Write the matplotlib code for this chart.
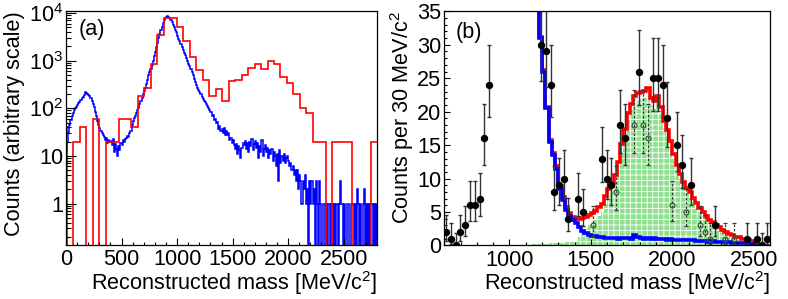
import numpy as np
import matplotlib
matplotlib.use("Agg")
import matplotlib.pyplot as plt
from matplotlib.ticker import FixedLocator, FixedFormatter, MultipleLocator, NullFormatter

plt.rcParams['font.family'] = ['Liberation Sans', 'DejaVu Sans']
plt.rcParams['mathtext.fontset'] = 'custom'
plt.rcParams['mathtext.rm'] = 'Liberation Sans'
plt.rcParams['mathtext.it'] = 'Liberation Sans:italic'
plt.rcParams['hatch.linewidth'] = 0.6

# ---------------- panel (a) ----------------
# red histogram: 58.33 MeV bins, first bin straddles 0 (edges start at -52.3)
red_width = 2800 / 48
red_start = -52.3
red_a = [40, 0, 20, 40, 0, 60, 0, 20, 20, 60, 60,
         40, 180, 260, 830, 3500, 7900, 7900, 5200, 2600, 1200,
         630, 390, 180, 250, 140, 370, 390, 510, 700, 860,
         670, 1000, 860, 450, 340, 200, 100, 78, 20, 20,
         0, 20, 20, 20, 0, 0, 0, 20]
# blue histogram: 10 MeV bins over 0-2800 MeV (one row = 200 MeV)
blue_a = [
    12, 20, 32, 45, 57, 68, 80, 90, 100, 108, 118, 128, 138, 150, 162, 175, 190, 220, 210, 200,
    190, 180, 165, 145, 120, 105, 85, 70, 55, 45, 38, 33, 30, 27, 25, 22, 24, 19, 22, 20,
    21, 17, 23, 12, 18, 14, 10, 16, 13, 19, 17, 22, 20, 23, 24, 26, 25, 30, 33, 44,
    55, 62, 70, 80, 92, 103, 120, 140, 165, 195, 225, 265, 320, 400, 490, 580, 680, 800, 1000, 1250,
    1500, 1900, 2400, 3000, 3700, 4400, 5200, 6200, 7200, 7900, 8400, 8500, 8300, 7900, 7200, 6400, 5700, 5000, 4400, 3900,
    3300, 2900, 2600, 2250, 1950, 1700, 1480, 1300, 1130, 980, 860, 760, 660, 570, 490, 420, 360, 310, 270, 240,
    215, 195, 175, 160, 145, 135, 125, 110, 100, 92, 82, 70, 74, 58, 60, 48, 52, 36, 42, 33,
    36, 30, 38, 28, 33, 27, 30, 22, 24, 19, 22, 17, 14, 18, 11, 16, 13, 9, 15, 19,
    17, 21, 14, 19, 12, 20, 16, 23, 13, 18, 21, 15, 19, 9, 16, 12, 22, 10, 14, 17,
    12, 15, 9, 13, 11, 14, 8, 12, 10, 6, 11, 3, 13, 7, 10, 8, 11, 7, 9, 10,
    8, 6, 7, 5, 6, 4, 5, 3, 5, 2, 4, 3, 1, 3, 2, 4, 1, 2, 0, 3,
    1, 3, 1, 2, 0, 3, 1, 0, 3, 1, 0, 1, 1, 0, 1, 0, 1, 1, 0, 1,
    0, 1, 0, 1, 1, 0, 1, 3, 1, 0, 1, 0, 0, 1, 1, 0, 0, 1, 1, 0,
    1, 0, 2, 1, 0, 1, 0, 1, 2, 0, 1, 0, 1, 0, 1, 1, 0, 1, 0, 1]

# ---------------- panel (b) ----------------
# histograms: 20 MeV bins from 1100 to 2540 MeV
blue_b = [70, 55, 45, 38, 31, 26, 20.5, 15.5, 13.5, 11.5,
          8.5, 6.8, 5.3, 4.4, 3.8, 3.3, 2.7, 2.2, 1.8, 1.6,
          1.45, 1.35, 1.3, 1.2, 1.15, 1.1, 1.05, 1.1, 1.0, 1.1,
          1.05, 1.1, 1.0, 1.6, 1.2, 1.1, 1.0, 1.1, 1.0, 1.05,
          1.0, 0.95, 1.0, 0.85, 0.9, 0.85, 0.85, 0.8, 0.85, 0.8,
          0.75, 0.8, 0.7, 0.6, 0.65, 0.6, 0.55, 0.6, 0.55, 0.5,
          0.5, 0.45, 0.45, 0.4, 0.35, 0.35, 0.3, 0.3, 0.25, 0.2,
          0.1, 0.05]
green_b = [0.1, 0.1, 0.15, 0.15, 0.2, 0.2, 0.25, 0.3, 0.3, 0.35,
           0.4, 0.4, 0.45, 0.5, 0.5, 0.6, 1.2, 1.9, 2.5, 3.0,
           3.4, 3.8, 4.4, 5.0, 6.2, 7.4, 8.3, 9.5, 11.5, 14.0,
           16.3, 18.7, 20.2, 20.8, 21.6, 21.9, 22.1, 22.4, 21.0, 20.6,
           21.4, 19.7, 17.6, 16.4, 14.7, 12.9, 11.2, 9.9, 8.6, 7.8,
           7.2, 6.3, 5.6, 5.0, 4.3, 3.8, 3.3, 2.9, 2.5, 2.2,
           1.8, 1.55, 1.3, 1.1, 0.95, 0.85, 0.7, 0.6, 0.5, 0.4,
           0.3, 0.2]

# data points (filled) and second set (open circles)
data_x = [610, 641, 670, 696, 727, 756, 787, 817, 842, 872,
          1194, 1224, 1253, 1276, 1306, 1336, 1361, 1419, 1450,
          1567, 1597, 1624, 1679, 1712, 1796, 1884, 1915, 1941, 1970,
          2031, 2062, 2115, 2263, 2458, 2519, 2550, 2580]
data_y = [2, 1, 0, 2, 3, 6, 6, 7, 16, 24,
          30, 29, 24, 8, 9, 10, 4, 7, 5,
          13, 10, 9, 18, 16, 26, 25, 25, 24, 19,
          15, 12, 9, 3, 1, 1, 0, 1]
open_x = [1511, 1655, 1767, 1822, 1853, 1997, 2083, 2170, 2201, 2234, 2324, 2380]
open_y = [3, 8, 18, 18, 16, 6, 5, 3, 2, 1, 1, 1]


def poisson_err(n):
    n = np.asarray(n, float)
    nn = np.maximum(n, 1)
    lo = np.where(n > 0, n - n * (1 - 1 / (9 * nn) - 1 / (3 * np.sqrt(nn))) ** 3, 0)
    m = n + 1
    hi = m * (1 - 1 / (9 * m) + 1 / (3 * np.sqrt(m))) ** 3 - n
    return np.vstack([lo, hi])


FS = 15.6
fig = plt.figure(figsize=(7.88, 2.99), dpi=100)
axa = fig.add_axes([0.0838, 0.1806, 0.3946, 0.7826])
axb = fig.add_axes([0.5638, 0.1790, 0.4134, 0.7830])

# --- (a)
floor = 1e-2
edges_red = red_start + red_width * np.arange(len(red_a) + 1)
edges_blue = np.linspace(0, 2800, len(blue_a) + 1)
axa.stairs(np.maximum(blue_a, floor), edges_blue, baseline=floor, color='#0000ff', lw=1.1)
axa.stairs(np.maximum(red_a, floor), edges_red, baseline=floor, color='#ff0000', lw=1.2)
axa.set_yscale('log')
axa.set_xlim(0, 2800)
axa.set_ylim(0.135, 11000)
axa.yaxis.set_major_locator(FixedLocator([1, 10, 100, 1000, 10000]))
axa.yaxis.set_major_formatter(FixedFormatter(['1', '10', r'$10^{2}$', r'$10^{3}$', r'$10^{4}$']))
minors = [m * 10.0 ** e for e in range(-1, 4) for m in range(2, 10)]
axa.yaxis.set_minor_locator(FixedLocator(minors))
axa.yaxis.set_minor_formatter(NullFormatter())
axa.xaxis.set_major_locator(MultipleLocator(500))
axa.xaxis.set_minor_locator(MultipleLocator(100))
axa.set_xlabel(r'Reconstructed mass [MeV/c$^{2}$]', fontsize=FS, loc='right', labelpad=-1)
axa.set_ylabel('Counts (arbitrary scale)', fontsize=FS, loc='top', labelpad=3)
axa.text(0.04, 0.965, '(a)', transform=axa.transAxes, fontsize=FS, va='top', ha='left')

# --- (b)
edges_b = np.linspace(1100, 2540, len(blue_b) + 1)
red_b = np.array(blue_b) + np.array(green_b)
axb.stairs(green_b, edges_b, fill=True, facecolor='#8fe08f', edgecolor='white',
           hatch='+++', lw=0)
axb.stairs(red_b, edges_b, baseline=None, color='#ff0000', lw=2.6)
axb.stairs(blue_b, edges_b, baseline=None, color='#0000ff', lw=2.6)
eo = axb.errorbar(open_x, open_y, yerr=poisson_err(open_y), fmt='o', ms=3.5, mfc='none',
                  mec='#2e5e2e', mew=0.9, ecolor='#3a3a3a', elinewidth=0.9, capsize=1.5,
                  ls='none')
eo[2][0].set_linestyle((0, (2, 1.5)))
axb.errorbar(data_x, data_y, yerr=poisson_err(data_y), fmt='o', ms=4.3, color='black',
             ecolor='#333333', elinewidth=1.0, capsize=1.5)
axb.set_xlim(600, 2600)
axb.set_ylim(0, 35)
axb.yaxis.set_major_locator(MultipleLocator(5))
axb.yaxis.set_minor_locator(MultipleLocator(1))
axb.xaxis.set_major_locator(FixedLocator([1000, 1500, 2000, 2500]))
axb.xaxis.set_minor_locator(MultipleLocator(100))
axb.set_xlabel(r'Reconstructed mass [MeV/c$^{2}$]', fontsize=FS, loc='right', labelpad=-1)
axb.set_ylabel(r'Counts per 30 MeV/c$^{2}$', fontsize=FS, loc='top', labelpad=1)
axb.text(0.035, 0.955, '(b)', transform=axb.transAxes, fontsize=FS, va='top', ha='left')

for ax in (axa, axb):
    ax.tick_params(axis='both', which='both', direction='in', labelsize=FS, width=0.8)
    ax.tick_params(axis='y', pad=2)
    ax.tick_params(axis='x', pad=3)
    for s in ax.spines.values():
        s.set_linewidth(0.9)
axa.tick_params(axis='y', which='major', length=7)
axa.tick_params(axis='y', which='minor', length=3.5)
axa.tick_params(axis='x', which='major', length=5)
axa.tick_params(axis='x', which='minor', length=2.5)
axb.tick_params(which='major', length=4.5)
axb.tick_params(which='minor', length=2.2)

fig.savefig('out.png', dpi=100)
